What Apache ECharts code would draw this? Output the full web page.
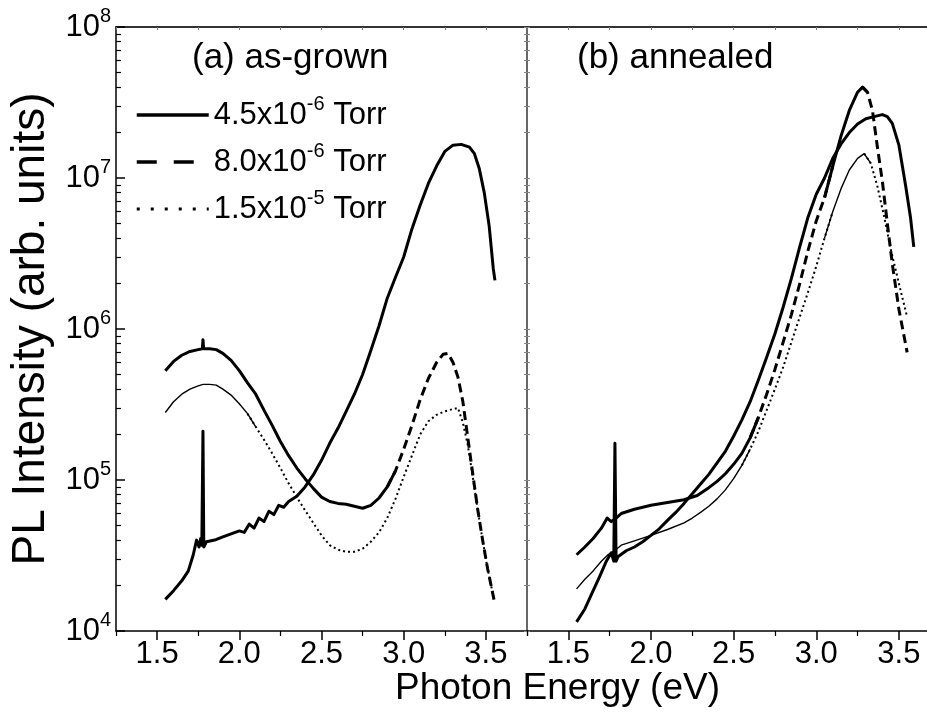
<!DOCTYPE html>
<html>
<head>
<meta charset="utf-8">
<script src="https://cdn.jsdelivr.net/npm/echarts@6/dist/echarts.min.js"></script>
<style>
  html, body { margin: 0; padding: 0; background: #fff; }
  #main { width: 927px; height: 717px; }
</style>
</head>
<body>
<div id="main"></div>
<script>
var FONT = "'Liberation Sans', Arial, sans-serif";

// tick labels and names
var xTicks = [1.5, 2.0, 2.5, 3.0, 3.5];
var xMinorTicks = [1.25, 1.75, 2.25, 2.75, 3.25, 3.75];
var yDecades = [1e4, 1e5, 1e6, 1e7, 1e8];
var seriesNames = ['4.5x10^-6 Torr', '8.0x10^-6 Torr', '1.5x10^-5 Torr'];
var panelTitles = ['(a) as-grown', '(b) annealed'];
var xTitle = 'Photon Energy (eV)';
var yTitle = 'PL Intensity (arb. units)';

// (a) as-grown, [photon energy eV, PL intensity]
var asGrown45 = [
  [1.55, 1.62e4], [1.60, 1.85e4], [1.65, 2.15e4], [1.69, 2.5e4], [1.72, 3.2e4], [1.74, 4.0e4],
  [1.755, 3.6e4], [1.765, 4.1e4], [1.772, 3.7e4], [1.779, 2.1e5], [1.784, 3.6e4], [1.80, 3.9e4],
  [1.85, 4.0e4], [1.90, 4.2e4], [1.95, 4.4e4], [2.00, 4.6e4], [2.03, 4.5e4], [2.06, 5.1e4],
  [2.09, 4.8e4], [2.12, 5.6e4], [2.15, 5.3e4], [2.18, 6.2e4], [2.21, 5.9e4], [2.24, 6.8e4],
  [2.27, 6.6e4], [2.30, 7.2e4], [2.35, 7.8e4], [2.40, 9.0e4], [2.45, 1.08e5], [2.50, 1.35e5],
  [2.55, 1.75e5], [2.60, 2.2e5], [2.65, 2.85e5], [2.70, 3.7e5], [2.75, 5.0e5], [2.80, 7.2e5],
  [2.85, 1.05e6], [2.90, 1.6e6], [2.95, 2.2e6], [3.00, 3.0e6], [3.05, 4.6e6], [3.10, 6.6e6],
  [3.15, 9.2e6], [3.20, 1.2e7], [3.25, 1.5e7], [3.30, 1.65e7], [3.35, 1.67e7], [3.40, 1.6e7],
  [3.43, 1.45e7], [3.46, 1.15e7], [3.49, 8.0e6], [3.52, 4.8e6], [3.545, 2.5e6], [3.555, 2.1e6]
];
var asGrown80 = [
  [1.55, 5.3e5], [1.60, 6.1e5], [1.65, 6.7e5], [1.70, 7.1e5], [1.75, 7.3e5], [1.775, 7.4e5],
  [1.779, 8.5e5], [1.783, 7.4e5], [1.82, 7.4e5], [1.86, 7.3e5], [1.90, 6.9e5], [1.95, 6.2e5],
  [2.00, 5.3e5], [2.05, 4.4e5], [2.10, 3.7e5], [2.15, 2.9e5], [2.20, 2.3e5], [2.25, 1.8e5],
  [2.30, 1.45e5], [2.35, 1.2e5], [2.40, 1.02e5], [2.45, 8.8e4], [2.50, 7.7e4], [2.55, 7.2e4],
  [2.60, 7.0e4], [2.65, 6.9e4], [2.70, 6.7e4], [2.75, 6.5e4], [2.80, 6.8e4], [2.85, 7.6e4],
  [2.90, 9.0e4], [2.95, 1.15e5], [3.00, 1.6e5], [3.05, 2.3e5], [3.10, 3.4e5], [3.15, 4.7e5],
  [3.20, 6.0e5], [3.24, 6.8e5], [3.27, 6.9e5], [3.30, 6.0e5], [3.33, 4.8e5], [3.36, 3.3e5],
  [3.39, 1.9e5], [3.42, 1.1e5], [3.45, 6.4e4], [3.48, 4.0e4], [3.51, 2.6e4], [3.55, 1.6e4]
];
var asGrown15 = [
  [1.55, 2.8e5], [1.60, 3.3e5], [1.65, 3.7e5], [1.70, 4.0e5], [1.75, 4.2e5], [1.78, 4.3e5],
  [1.82, 4.3e5], [1.86, 4.25e5], [1.90, 4.0e5], [1.95, 3.65e5], [2.00, 3.2e5], [2.05, 2.75e5],
  [2.10, 2.25e5], [2.15, 1.85e5], [2.20, 1.5e5], [2.25, 1.2e5], [2.30, 9.5e4], [2.35, 7.7e4],
  [2.40, 6.3e4], [2.45, 5.2e4], [2.50, 4.3e4], [2.55, 3.7e4], [2.60, 3.45e4], [2.65, 3.35e4],
  [2.70, 3.35e4], [2.75, 3.5e4], [2.80, 3.9e4], [2.85, 4.5e4], [2.90, 5.6e4], [2.95, 7.5e4],
  [3.00, 1.05e5], [3.05, 1.45e5], [3.10, 2.0e5], [3.15, 2.45e5], [3.20, 2.7e5], [3.25, 2.85e5],
  [3.30, 2.95e5], [3.33, 3.0e5], [3.36, 2.4e5], [3.39, 1.7e5], [3.42, 1.05e5], [3.45, 6.4e4],
  [3.48, 4.0e4], [3.51, 2.6e4], [3.55, 1.6e4]
];

// (b) annealed
var annealed45 = [
  [1.55, 1.15e4], [1.60, 1.4e4], [1.64, 1.75e4], [1.69, 2.3e4], [1.73, 2.9e4], [1.76, 3.3e4],
  [1.775, 2.9e4], [1.782, 1.75e5], [1.789, 2.9e4], [1.80, 3.1e4], [1.85, 3.4e4], [1.90, 3.6e4],
  [1.95, 3.9e4], [2.00, 4.3e4], [2.05, 4.75e4], [2.10, 5.4e4], [2.15, 6.1e4], [2.20, 7.0e4],
  [2.25, 8.1e4], [2.30, 9.4e4], [2.35, 1.09e5], [2.40, 1.3e5], [2.45, 1.55e5], [2.50, 1.95e5],
  [2.55, 2.5e5], [2.60, 3.3e5], [2.65, 4.6e5], [2.70, 6.5e5], [2.75, 9.3e5], [2.80, 1.4e6],
  [2.85, 2.17e6], [2.90, 3.5e6], [2.95, 5.5e6], [3.00, 7.8e6], [3.05, 1.0e7], [3.10, 1.35e7],
  [3.15, 1.68e7], [3.20, 2.0e7], [3.25, 2.28e7], [3.30, 2.47e7], [3.35, 2.55e7], [3.40, 2.63e7],
  [3.43, 2.55e7], [3.46, 2.3e7], [3.50, 1.65e7], [3.54, 9.0e6], [3.57, 5.5e6], [3.59, 3.5e6]
];
var annealed80 = [
  [1.55, 3.2e4], [1.60, 3.6e4], [1.65, 4.1e4], [1.70, 4.8e4], [1.735, 5.6e4], [1.76, 5.3e4],
  [1.79, 5.6e4], [1.82, 6.0e4], [1.90, 6.4e4], [2.00, 6.8e4], [2.10, 7.1e4], [2.20, 7.4e4],
  [2.28, 7.9e4], [2.35, 8.9e4], [2.40, 9.8e4], [2.45, 1.1e5], [2.50, 1.27e5], [2.55, 1.5e5],
  [2.60, 1.9e5], [2.65, 2.6e5], [2.70, 3.7e5], [2.75, 5.4e5], [2.80, 8.2e5], [2.85, 1.25e6],
  [2.90, 2.0e6], [2.95, 3.3e6], [3.00, 5.2e6], [3.05, 7.4e6], [3.10, 1.2e7], [3.15, 1.9e7],
  [3.20, 2.8e7], [3.25, 3.7e7], [3.28, 4.0e7], [3.31, 3.7e7], [3.34, 2.8e7], [3.37, 1.6e7],
  [3.40, 9.5e6], [3.43, 5.0e6], [3.46, 2.7e6], [3.50, 1.35e6], [3.55, 7.0e5]
];
var annealed15 = [
  [1.55, 1.9e4], [1.60, 2.2e4], [1.65, 2.5e4], [1.70, 2.9e4], [1.74, 3.2e4], [1.78, 3.4e4],
  [1.82, 3.7e4], [1.90, 3.95e4], [2.00, 4.3e4], [2.10, 4.7e4], [2.20, 5.2e4], [2.25, 5.6e4],
  [2.30, 6.1e4], [2.35, 6.7e4], [2.40, 7.5e4], [2.45, 8.6e4], [2.50, 1.02e5], [2.55, 1.25e5],
  [2.60, 1.6e5], [2.65, 2.1e5], [2.70, 2.9e5], [2.75, 4.0e5], [2.80, 5.6e5], [2.85, 8.2e5],
  [2.90, 1.2e6], [2.95, 1.75e6], [3.00, 2.6e6], [3.05, 4.0e6], [3.10, 6.0e6], [3.15, 8.5e6],
  [3.20, 1.13e7], [3.25, 1.35e7], [3.29, 1.45e7], [3.33, 1.25e7], [3.37, 8.8e6], [3.41, 5.6e6],
  [3.45, 3.4e6], [3.50, 2.0e6], [3.55, 1.2e6]
];

var yMinorTicks = [];
yDecades.slice(0, -1).forEach(function (d) {
  for (var m = 2; m <= 9; m++) yMinorTicks.push(d * m);
});

var chart = echarts.init(document.getElementById('main'));

var SOLID = { type: 'solid', width: 3 };
var DASHED = { type: [9, 5], width: 3 };
var DOTTED = { type: [2, 3], width: 2 };
var THIN = { type: 'solid', width: 1.4 };

function supText(s) {
  return s.replace(/\^(-?\d+)/, '{sup|$1}');
}

function xAxes(grid, max) {
  var quarter = [];
  for (var v = 1.25; v <= max + 1e-9; v += 0.25) quarter.push(+v.toFixed(2));
  return [
    {
      gridIndex: grid, type: 'value', min: 1.25, max: max, position: 'bottom',
      axisLine: { lineStyle: { color: '#000', width: 1.5 } },
      axisTick: { customValues: xTicks, length: 9, lineStyle: { color: '#000', width: 1.5 } },
      axisLabel: {
        customValues: xTicks, color: '#000', fontSize: 31, fontFamily: FONT, margin: 8,
        formatter: function (v) { return v.toFixed(1); }
      },
      splitLine: { show: false }
    },
    {
      gridIndex: grid, type: 'value', min: 1.25, max: max, position: 'bottom',
      axisLine: { show: false },
      axisTick: { customValues: xMinorTicks.filter(function (v) { return v <= max; }), length: 5, lineStyle: { color: '#000', width: 1.2 } },
      axisLabel: { show: false }, splitLine: { show: false }
    },
    {
      gridIndex: grid, type: 'value', min: 1.25, max: max, position: 'top',
      axisLine: { lineStyle: { color: '#333', width: 2 } },
      axisTick: { inside: true, customValues: quarter, length: 3, lineStyle: { color: '#777', width: 1 } },
      axisLabel: { show: false }, splitLine: { show: false }
    }
  ];
}

function logAxis(grid, extra) {
  return Object.assign({
    gridIndex: grid, type: 'log', logBase: 10, min: 1e4, max: 1e8,
    axisLabel: { show: false }, splitLine: { show: false }
  }, extra);
}

var yAxes = [
  logAxis(0, {
    position: 'left',
    axisLine: { show: true, lineStyle: { color: '#000', width: 1.5 } },
    axisTick: { inside: true, length: 9, lineStyle: { color: '#000', width: 1.5 } },
    axisLabel: {
      show: true, margin: 5, color: '#000', fontFamily: FONT, fontSize: 31, lineHeight: 42,
      formatter: function (v) {
        return '10{sup|' + Math.round(Math.log10(v)) + '}';
      },
      rich: { sup: { fontSize: 20, lineHeight: 18, verticalAlign: 'top', fontFamily: FONT, color: '#000' } }
    },
    name: yTitle, nameLocation: 'middle', nameGap: 62, nameRotate: 90,
    nameTextStyle: { fontSize: 46, fontFamily: FONT, color: '#000' }
  }),
  logAxis(0, {
    position: 'left', axisLine: { show: false },
    axisTick: { inside: true, length: 5, customValues: yMinorTicks, lineStyle: { color: '#000', width: 1.2 } }
  }),
  logAxis(0, {
    position: 'right',
    axisLine: { show: true, lineStyle: { color: '#333', width: 1.5 } },
    axisTick: { inside: true, length: 3, customValues: yMinorTicks.concat(yDecades), lineStyle: { color: '#888', width: 1 } }
  }),
  logAxis(1, {
    position: 'left',
    axisLine: { show: false },
    axisTick: { inside: true, length: 3, customValues: yMinorTicks.concat(yDecades), lineStyle: { color: '#888', width: 1 } }
  })
];

// one styled piece of a curve; keeps the neighbouring points so pieces join up
function seg(name, data, from, to, style, panel) {
  var idx = [];
  data.forEach(function (p, i) { if (p[0] >= from && p[0] <= to) idx.push(i); });
  var i0 = Math.max(0, idx[0] - 1);
  var i1 = Math.min(data.length - 1, idx[idx.length - 1] + 1);
  if (from <= data[0][0]) i0 = 0;
  if (to >= data[data.length - 1][0]) i1 = data.length - 1;
  return {
    name: name, type: 'line', data: data.slice(i0, i1 + 1),
    xAxisIndex: panel * 3, yAxisIndex: panel === 0 ? 0 : 3,
    symbol: 'none', smooth: false, silent: true,
    itemStyle: { color: '#000' },
    lineStyle: Object.assign({ color: '#000', cap: 'butt', join: 'round' }, style)
  };
}

var series = [
  seg(seriesNames[0], asGrown45, 0, 9, SOLID, 0),
  seg('a80 low', asGrown80, 0, 2.9, SOLID, 0),
  seg(seriesNames[1], asGrown80, 2.95, 9, DASHED, 0),
  seg('a15 low', asGrown15, 0, 2.05, THIN, 0),
  seg(seriesNames[2], asGrown15, 2.1, 9, DOTTED, 0),

  seg('b45', annealed45, 0, 9, SOLID, 1),
  seg('b80 low', annealed80, 0, 2.6, SOLID, 1),
  seg('b80 rise', annealed80, 2.65, 3.05, DASHED, 1),
  seg('b80 peak', annealed80, 3.1, 3.28, SOLID, 1),
  seg('b80 fall', annealed80, 3.31, 9, DASHED, 1),
  seg('b15 low', annealed15, 0, 2.55, THIN, 1),
  seg('b15 rise', annealed15, 2.6, 3.05, DOTTED, 1),
  seg('b15 peak', annealed15, 3.1, 3.29, THIN, 1),
  seg('b15 fall', annealed15, 3.33, 9, DOTTED, 1)
];

var hiddenSymbol = { color: 'rgba(0,0,0,0)', borderWidth: 0, opacity: 0 };

var option = {
  backgroundColor: '#fff',
  animation: false,
  grid: [
    { left: 116, right: 400, top: 27, bottom: 86 },
    { left: 527, right: 0, top: 27, bottom: 86 }
  ],
  xAxis: xAxes(0, 3.75).concat(xAxes(1, 3.67)),
  yAxis: yAxes,
  legend: {
    orient: 'vertical', left: 130, top: 89, itemWidth: 72, itemHeight: 20, itemGap: 5,
    selectedMode: false,
    itemStyle: hiddenSymbol,
    data: [
      { name: seriesNames[0], itemStyle: hiddenSymbol, lineStyle: { type: 'solid', width: 3.5, color: '#000' } },
      { name: seriesNames[1], itemStyle: hiddenSymbol, lineStyle: { type: [20, 17], width: 3.5, color: '#000' } },
      { name: seriesNames[2], itemStyle: hiddenSymbol, lineStyle: { type: [3, 11], width: 3, color: '#000' } }
    ],
    formatter: supText,
    textStyle: {
      color: '#000', fontFamily: FONT, fontSize: 31, lineHeight: 42,
      rich: { sup: { fontSize: 20, lineHeight: 20, verticalAlign: 'top', fontFamily: FONT, color: '#000' } }
    }
  },
  graphic: [
    { type: 'text', left: 192, top: 41, style: { text: panelTitles[0], font: '35px ' + FONT, fill: '#000' } },
    { type: 'text', left: 577, top: 41, style: { text: panelTitles[1], font: '35px ' + FONT, fill: '#000' } },
    { type: 'text', left: 395, top: 670, style: { text: xTitle, font: '37px ' + FONT, fill: '#000' } }
  ],
  series: series
};

chart.setOption(option);
</script>
</body>
</html>
